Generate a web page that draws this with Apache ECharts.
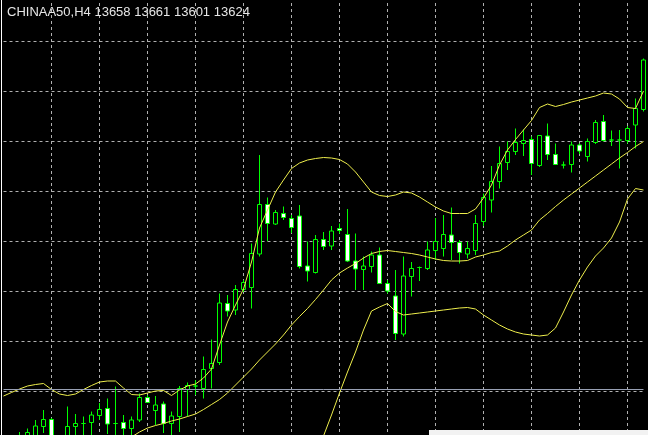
<!DOCTYPE html>
<html><head><meta charset="utf-8">
<script src="https://cdn.jsdelivr.net/npm/echarts@6/dist/echarts.min.js"></script>
<style>html,body{margin:0;padding:0;background:#000;}#c{width:648px;height:435px;}</style>
</head><body><div id="c"></div>
<script>
const symbolTitle = 'CHINAA50,H4';
const quote = ['13658', '13661', '13601', '13624'];

const opens = [12992,12994,13006,13008,13008,13029,13043,12998,13006,13029,
13035,13037,13051,13065,13035,13037,13025,13042,13087,13061,
13074,13035,13049,13103,13110,13105,13145,13157,13275,13262,
13303,13307,13374,13473,13434,13455,13445,13450,13350,13337,
13403,13390,13425,13413,13360,13343,13349,13372,13315,13290,
13214,13329,13347,13345,13381,13385,13412,13397,13374,13381,
13439,13482,13519,13557,13579,13595,13603,13551,13610,13573,
13552,13553,13592,13569,13597,13639,13602,13602,13601,13632,13663];
const closes = [13000,13002,13010,13017,13030,13043,13002,13008,13029,13035,
13035,13052,13063,13034,13035,13025,13042,13087,13077,13072,
13035,13050,13105,13111,13110,13143,13155,13276,13260,13303,
13317,13375,13473,13435,13457,13447,13427,13349,13340,13403,
13389,13420,13421,13360,13344,13350,13372,13315,13300,13215,
13330,13345,13347,13382,13399,13413,13397,13377,13385,13435,
13487,13519,13555,13579,13597,13601,13555,13611,13573,13553,
13552,13592,13580,13599,13637,13601,13602,13602,13625,13665,13762];
const lows = [12982,12984,12998,13002,13000,13016,12998,12988,13000,13008,
13008,13010,13042,13014,13008,13012,13010,13038,13076,13032,
13016,13012,13018,13049,13092,13085,13105,13152,13249,13252,
13298,13265,13369,13400,13432,13442,13416,13345,13319,13335,
13382,13382,13415,13358,13302,13302,13337,13314,13295,13202,
13209,13289,13320,13342,13362,13369,13362,13355,13365,13372,
13430,13457,13505,13542,13572,13570,13532,13548,13562,13552,
13545,13537,13574,13559,13594,13599,13590,13545,13595,13585,13659];
const highs = [13006,13008,13018,13025,13042,13062,13046,13009,13069,13054,
13049,13059,13076,13085,13109,13052,13049,13095,13092,13090,
13079,13059,13110,13117,13122,13169,13203,13295,13292,13312,
13322,13395,13572,13487,13462,13469,13452,13472,13399,13412,
13418,13430,13435,13464,13415,13369,13379,13387,13322,13342,
13369,13358,13349,13399,13446,13452,13467,13402,13399,13452,
13495,13550,13589,13599,13625,13623,13609,13612,13635,13595,
13559,13599,13595,13605,13642,13652,13621,13622,13630,13685,13765];

const upperBand = [13090,13097,13104,13110,13113,13115,13103,13094,13091,13094,
13103,13111,13118,13120,13120,13106,13093,13092,13096,13100,
13101,13091,13102,13110,13114,13126,13144,13192,13238,13272,
13304,13358,13426,13462,13498,13522,13545,13556,13562,13565,
13567,13566,13563,13554,13538,13518,13498,13491,13489,13492,
13498,13496,13488,13478,13468,13460,13455,13455,13455,13464,
13486,13512,13552,13582,13603,13622,13641,13667,13674,13669,
13673,13678,13682,13686,13690,13696,13694,13684,13667,13665,13700];
const middleBand = [null,null,null,null,null,null,null,null,null,null,
null,null,null,null,null,12998,13008,13018,13026,13031,
13035,13040,13044,13049,13054,13063,13073,13083,13096,13112,
13128,13144,13162,13178,13194,13212,13232,13249,13265,13283,
13302,13322,13336,13346,13355,13366,13375,13379,13381,13379,
13377,13375,13372,13368,13364,13361,13360,13360,13361,13368,
13372,13377,13380,13390,13402,13412,13422,13442,13455,13469,
13482,13494,13506,13518,13530,13542,13554,13566,13577,13589,13599];
const lowerBand = [null,null,null,null,null,null,null,null,null,null,
null,null,null,null,null,null,null,null,null,null,
null,null,null,null,null,null,null,null,null,null,
null,null,null,null,null,null,null,null,null,12966,
13010,13052,13096,13138,13178,13222,13260,13268,13275,13259,
13252,13254,13256,13258,13260,13262,13264,13266,13267,13264,
13252,13242,13232,13224,13218,13214,13212,13210,13212,13226,
13258,13292,13322,13348,13370,13386,13406,13438,13484,13505,13502];

const priceLine = 13104;
const yMin = 13000, yMax = 13900, yStep = 100;
const gridEvery = 6;

const categories = opens.map((_, i) => 'b' + i);
const ohlc = opens.map((o, i) => [o, closes[i], lows[i], highs[i]]);

const chart = echarts.init(document.getElementById('c'), null, {renderer: 'canvas'});
const gridLine = {color: '#b0b0b0', type: [3, 3], width: 1};
const bandStyle = {color: '#eeee4c', width: 1};
chart.setOption({
  backgroundColor: '#000000',
  animation: false,
  grid: {left: 3.5, top: -9, width: 640, height: 450, containLabel: false, outerBoundsMode: 'none'},
  xAxis: {
    type: 'category', data: categories, boundaryGap: false,
    axisLine: {show: false}, axisTick: {show: false}, axisLabel: {show: false},
    splitLine: {show: true, interval: (i) => i > 0 && i % gridEvery === 0, lineStyle: gridLine}
  },
  yAxis: {
    type: 'value', min: yMin, max: yMax, interval: yStep,
    axisLine: {show: false}, axisTick: {show: false}, axisLabel: {show: false},
    splitLine: {show: true, lineStyle: gridLine}
  },
  series: [
    {
      type: 'candlestick', data: ohlc, barWidth: 4, clip: false, z: 3,
      itemStyle: {color: '#000000', color0: '#ffffff', borderColor: '#00ff00', borderColor0: '#00ff00', borderColorDoji: '#00ff00', borderWidth: 1},
      markLine: {
        silent: true, symbol: ['none', 'none'], label: {show: false},
        lineStyle: {color: '#98a0b4', type: 'solid', width: 1},
        data: [{yAxis: priceLine}]
      }
    },
    {type: 'line', data: upperBand, showSymbol: false, lineStyle: bandStyle, z: 4, clip: false},
    {type: 'line', data: middleBand, showSymbol: false, lineStyle: bandStyle, z: 4, clip: false},
    {type: 'line', data: lowerBand, showSymbol: false, lineStyle: bandStyle, z: 4, clip: false}
  ],
  graphic: [
    {type: 'text', left: 7, top: 6, z: 10,
     style: {text: symbolTitle + ' ' + quote.join(' '), fill: '#e6e6e6', font: '13px "Liberation Sans", Arial, sans-serif'}},
    {type: 'line', z: 10, shape: {x1: 1.5, y1: 0, x2: 1.5, y2: 435}, style: {stroke: '#ffffff', lineWidth: 1}},
    {type: 'rect', z: 10, shape: {x: 429, y: 430, width: 219, height: 5}, style: {fill: '#f2f2f2'}}
  ]
});
</script></body></html>
